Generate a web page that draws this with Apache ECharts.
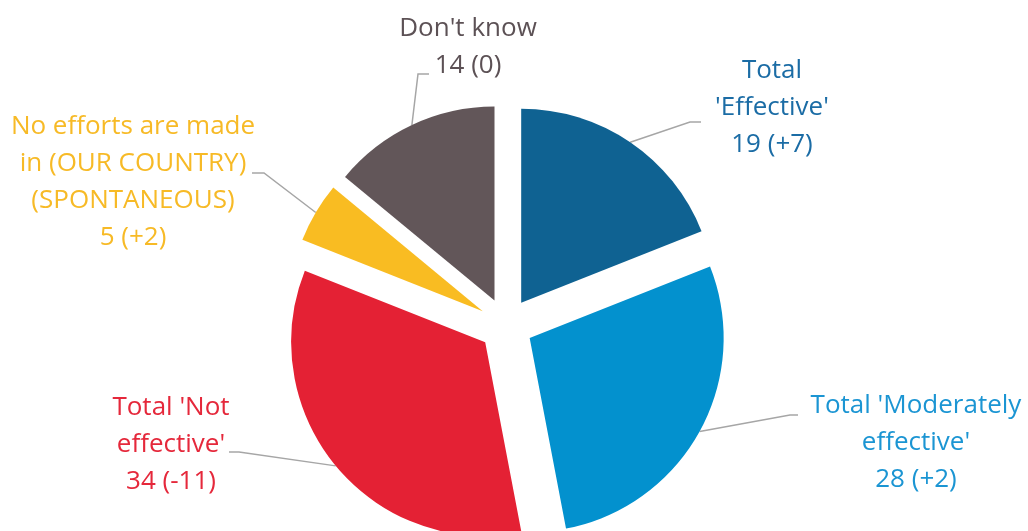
<!DOCTYPE html>
<html>
<head>
<meta charset="utf-8">
<script src="https://cdn.jsdelivr.net/npm/echarts@6/dist/echarts.min.js"></script>
<style>html,body{margin:0;padding:0;background:#fff;}#c{width:1028px;height:531px;}</style>
</head>
<body>
<div id="c"></div>
<script>
const categories = ["Total 'Effective'", "Total 'Moderately effective'", "Total 'Not effective'", "No efforts are made in (OUR COUNTRY) (SPONTANEOUS)", "Don't know"];
const values = [19, 28, 34, 5, 14];
const changes = ["+7", "+2", "-11", "+2", "0"];
const labelLines = [["Total", "'Effective'"], ["Total 'Moderately", "effective'"], ["Total 'Not", "effective'"], ["No efforts are made", "in (OUR COUNTRY)", "(SPONTANEOUS)"], ["Don't know"]];

const sliceColors = ['#0F6292', '#0391CE', '#E42134', '#F9BC22', '#625659'];
const textColors = ['#1B6CA5', '#1B95D3', '#E5283B', '#F7BA26', '#5C5155'];
// label layout: [centerX, centerY, elbowX, elbowY, endX, endY]
const labelPlace = [
  [772, 108, 690, 122, 701, 122],
  [916, 443, 790, 415, 798, 415],
  [171, 445, 239, 452, 229, 452],
  [133, 182, 264, 173, 252, 173],
  [468, 47, 418, 74, 429, 74]
];
const baseCenter = [506, 325];
const explode = 27;
const pieRadius = 194;

const total = values.reduce((a, b) => a + b, 0);
let acc = 0;
const series = values.map((v, i) => {
  const mid = (acc + v / 2) / total * 2 * Math.PI;
  acc += v;
  const cx = baseCenter[0] + explode * Math.sin(mid);
  const cy = baseCenter[1] - explode * Math.cos(mid);
  return {
    type: 'pie',
    center: [cx, cy],
    radius: pieRadius,
    startAngle: 90,
    clockwise: true,
    avoidLabelOverlap: false,
    emphasis: { disabled: true },
    silent: true,
    z: 2,
    data: categories.map((n, j) => ({
      name: n,
      value: values[j],
      itemStyle: { color: j === i ? sliceColors[j] : 'rgba(0,0,0,0)' },
      label: { show: j === i, color: textColors[j] },
      labelLine: { show: j === i }
    })),
    label: {
      position: 'outside',
      fontFamily: 'Open Sans',
      fontSize: 26,
      lineHeight: 37,
      align: 'center',
      formatter: p => labelLines[p.dataIndex].concat([values[p.dataIndex] + ' (' + changes[p.dataIndex] + ')']).join('\n')
    },
    labelLine: { lineStyle: { color: '#A6A6A6', width: 1.5 } },
    labelLayout: function (params) {
      const lp = labelPlace[params.dataIndex];
      const start = params.labelLinePoints ? params.labelLinePoints[0] : [lp[2], lp[3]];
      return {
        x: lp[0], y: lp[1], align: 'center', verticalAlign: 'middle',
        labelLinePoints: [start, [lp[2], lp[3]], [lp[4], lp[5]]]
      };
    }
  };
});

const chart = echarts.init(document.getElementById('c'));
chart.setOption({ animation: false, series: series });
</script>
</body>
</html>
